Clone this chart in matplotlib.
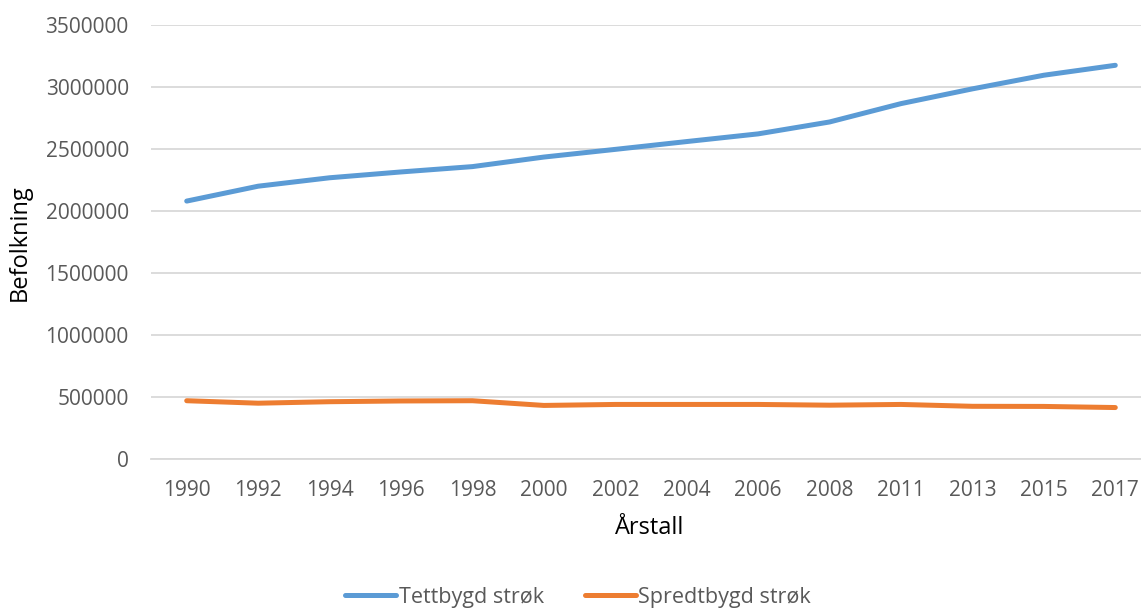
import matplotlib.pyplot as plt

aar = ['1990', '1992', '1994', '1996', '1998', '2000', '2002', '2004',
       '2006', '2008', '2011', '2013', '2015', '2017']
tettbygd = [2080000, 2200000, 2268000, 2315000, 2358000, 2435000, 2497000,
            2560000, 2622000, 2718000, 2866000, 2985000, 3095000, 3175000]
spredtbygd = [470000, 450000, 462000, 468000, 470000, 432000, 440000,
              440000, 440000, 434000, 440000, 425000, 424000, 415000]

plt.rcParams['font.family'] = ['Open Sans', 'DejaVu Sans']

fig = plt.figure(figsize=(11.41, 6.10), dpi=100)
ax = fig.add_axes([151 / 1141, 151 / 610, 1000 / 1141, 434 / 610])

x = range(len(aar))
ax.plot(x, tettbygd, color='#5B9BD5', linewidth=3.6, solid_capstyle='round',
        label='Tettbygd strøk', zorder=3)
ax.plot(x, spredtbygd, color='#ED7D31', linewidth=3.6, solid_capstyle='round',
        label='Spredtbygd strøk', zorder=3)

ax.set_xlim(-0.5, len(aar) - 0.5)
ax.set_ylim(0, 3500000)
ax.set_yticks(range(0, 3500001, 500000))
ax.set_yticklabels([str(v) for v in range(0, 3500001, 500000)])
ax.set_xticks(list(x))
ax.set_xticklabels(aar)

ax.grid(axis='y', color='#D9D9D9', linewidth=1.3, zorder=0)
for s in ['top', 'right', 'left']:
    ax.spines[s].set_visible(False)
ax.spines['bottom'].set_color('#D9D9D9')
ax.spines['bottom'].set_linewidth(1.3)
ax.tick_params(axis='both', length=0, labelsize=15, colors='#595959')
ax.tick_params(axis='x', pad=15)
ax.tick_params(axis='y', pad=16)

fig.text(650 / 1141, 1 - 528 / 610, 'Årstall', fontsize=17, color='black',
         ha='center', va='center')
fig.text(20 / 1141, 1 - 243 / 610, 'Befolkning', fontsize=17, color='black',
         rotation=90, ha='center', va='center')

fig.legend(loc='center', bbox_to_anchor=(578 / 1141, 13 / 610), ncol=2,
           frameon=False, fontsize=15.5, handlelength=2.4, handletextpad=0.1,
           columnspacing=1.9, labelcolor='#595959')

fig.savefig('out.png', dpi=100)
